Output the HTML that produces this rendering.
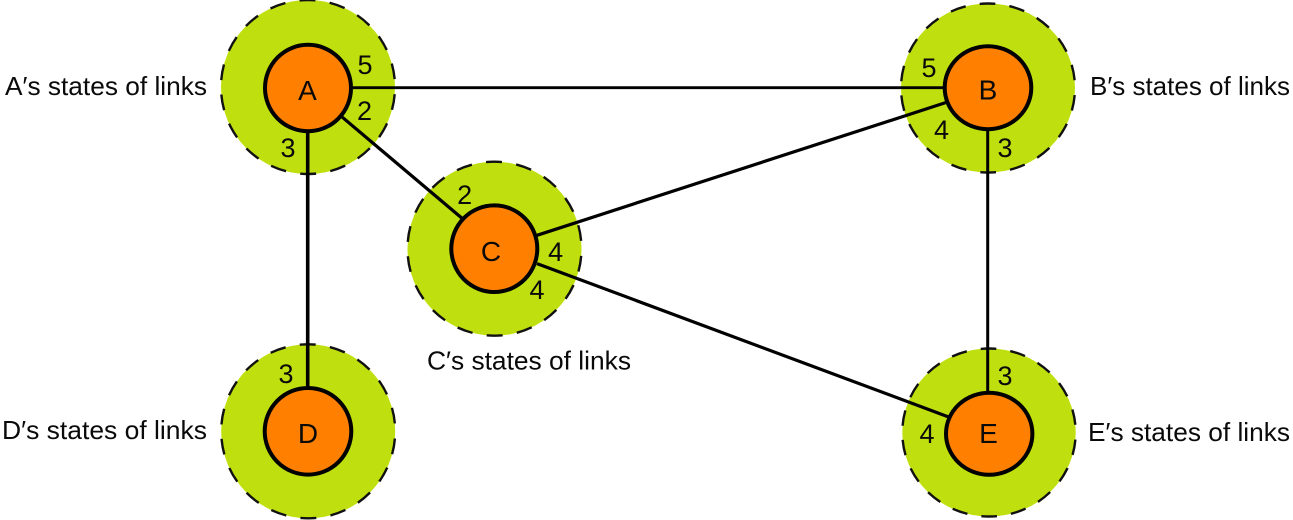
<!DOCTYPE html>
<html>
<head>
<meta charset="utf-8">
<style>
html,body{margin:0;padding:0;background:#fff;width:1293px;height:520px;overflow:hidden}
svg{display:block}
text{font-family:"Liberation Sans",sans-serif;fill:#0a0a0a}
.l{font-size:26px}
.n{font-size:27px;text-anchor:middle}
.c{font-size:28px;text-anchor:middle}
</style>
</head>
<body>
<svg width="1293" height="520" viewBox="0 0 1293 520" xmlns="http://www.w3.org/2000/svg">
<g fill="#bfe00e" stroke="#111" stroke-width="2.4" stroke-dasharray="10.5 9.5" stroke-dashoffset="-4.75">
<ellipse pathLength="360" cx="308" cy="87" rx="87" ry="87"/>
<ellipse pathLength="360" cx="988" cy="88" rx="87" ry="84.5"/>
<ellipse pathLength="360" cx="494.5" cy="248.7" rx="87" ry="87"/>
<ellipse pathLength="360" cx="308.2" cy="431.3" rx="87" ry="87"/>
<ellipse pathLength="360" cx="989" cy="432.5" rx="86.7" ry="84"/>
</g>
<g stroke="#000" fill="none">
<line x1="350" y1="87.7" x2="946" y2="87.7" stroke-width="2.8"/>
<line x1="341.7" y1="116.7" x2="461.7" y2="218" stroke-width="3.2"/>
<line x1="307.7" y1="130" x2="307.7" y2="388" stroke-width="3.6"/>
<line x1="537" y1="235.3" x2="946" y2="102.5" stroke-width="3.2"/>
<line x1="537" y1="263.6" x2="948" y2="416.7" stroke-width="3.2"/>
<line x1="987.7" y1="130" x2="987.7" y2="392" stroke-width="3"/>
</g>
<g fill="#ff8000" stroke="#000" stroke-width="4">
<ellipse cx="308" cy="88" rx="43" ry="43.2"/>
<ellipse cx="988" cy="87.7" rx="43.3" ry="41.5"/>
<ellipse cx="494.3" cy="248.7" rx="43" ry="43.3"/>
<ellipse cx="308" cy="431.3" rx="43.3" ry="43.3"/>
<ellipse cx="989.2" cy="433.7" rx="43.2" ry="41"/>
</g>
<text class="c" x="307.5" y="100">A</text>
<text class="c" x="988" y="99.5">B</text>
<text class="c" x="491" y="261">C</text>
<text class="c" x="308" y="443">D</text>
<text class="c" x="988.5" y="443">E</text>
<text class="n" x="365" y="74">5</text>
<text class="n" x="364.5" y="120">2</text>
<text class="n" x="288" y="157">3</text>
<text class="n" x="929" y="77">5</text>
<text class="n" x="941.5" y="139">4</text>
<text class="n" x="1005" y="157">3</text>
<text class="n" x="464.7" y="204">2</text>
<text class="n" x="555.7" y="261">4</text>
<text class="n" x="537" y="299">4</text>
<text class="n" x="286" y="383">3</text>
<text class="n" x="1005" y="385">3</text>
<text class="n" x="927" y="443">4</text>
<text class="l" x="5" y="95" textLength="202" lengthAdjust="spacingAndGlyphs">A′s states of links</text>
<text class="l" x="1090" y="95" textLength="200" lengthAdjust="spacingAndGlyphs">B′s states of links</text>
<text class="l" x="427" y="369.5" textLength="204" lengthAdjust="spacingAndGlyphs">C′s states of links</text>
<text class="l" x="2" y="439" textLength="205" lengthAdjust="spacingAndGlyphs">D′s states of links</text>
<text class="l" x="1088" y="441" textLength="202" lengthAdjust="spacingAndGlyphs">E′s states of links</text>
</svg>
</body>
</html>
